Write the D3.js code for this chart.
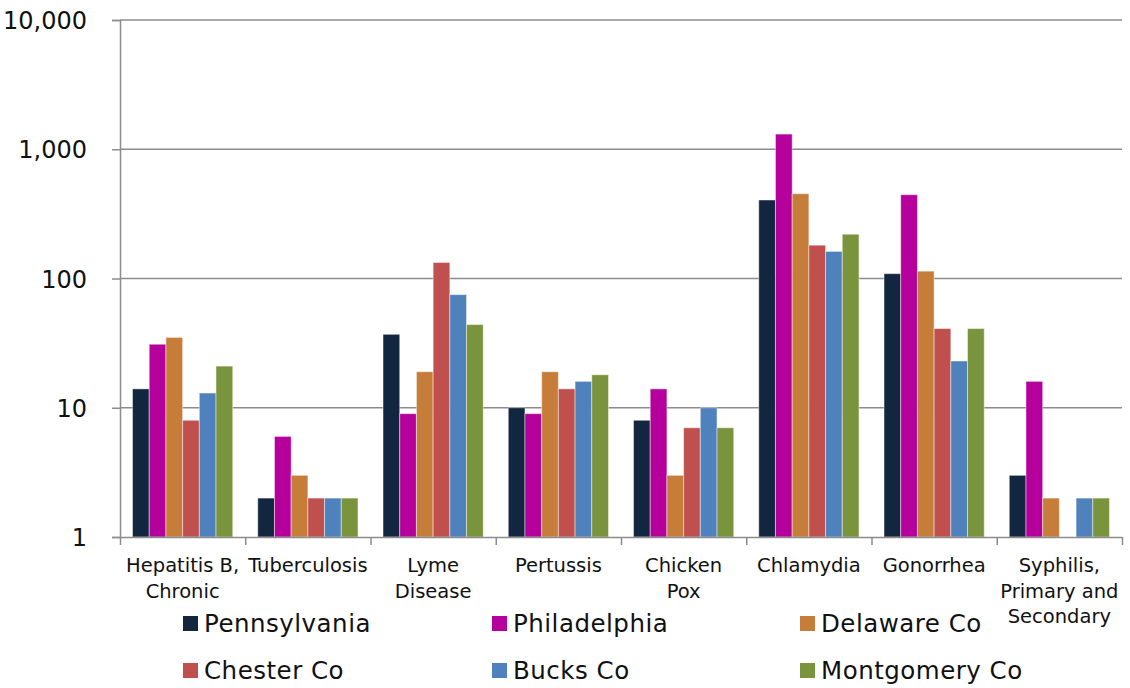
<!DOCTYPE html>
<html>
<head>
<meta charset="utf-8">
<script src="https://cdn.jsdelivr.net/npm/d3@7"></script>
<style>
  html, body { margin: 0; padding: 0; background: #fff; }
  svg { display: block; font-family: "DejaVu Sans", sans-serif; }
</style>
</head>
<body>
<svg id="chart" width="1130" height="688"></svg>
<script>
const categories = [
  ["Hepatitis B,", "Chronic"],
  ["Tuberculosis"],
  ["Lyme", "Disease"],
  ["Pertussis"],
  ["Chicken", "Pox"],
  ["Chlamydia"],
  ["Gonorrhea"],
  ["Syphilis,", "Primary and", "Secondary"]
];
const seriesNames = ["Pennsylvania", "Philadelphia", "Delaware Co", "Chester Co", "Bucks Co", "Montgomery Co"];
const seriesColors = ["#12263F", "#B5009B", "#C77D3A", "#C0504D", "#4F81BD", "#79943C"];
const pennsylvania = [14, 2, 37, 10, 8, 405, 109, 3];
const philadelphia = [31, 6, 9, 9, 14, 1310, 445, 16];
const delawareCo   = [35, 3, 19, 19, 3, 453, 114, 2];
const chesterCo    = [8, 2, 133, 14, 7, 181, 41, null];
const bucksCo      = [13, 2, 75, 16, 10, 162, 23, 2];
const montgomeryCo = [21, 2, 44, 18, 7, 220, 41, 2];
const seriesValues = [pennsylvania, philadelphia, delawareCo, chesterCo, bucksCo, montgomeryCo];
const yTicks = [1, 10, 100, 1000, 10000];

(function () {
const svg = d3.select("#chart");
const pLeft = 120, pRight = 1122, pTop = 20, pBottom = 537;

const x0 = d3.scaleBand().domain(d3.range(categories.length)).range([pLeft, pRight]).padding(0);
const x1 = d3.scaleBand().domain(d3.range(seriesNames.length)).range([0, x0.bandwidth()])
  .paddingInner(0).paddingOuter(0.75);
const y = d3.scaleLog().domain([1, 10000]).range([pBottom, pTop]);

// gridlines
svg.append("g").selectAll("line").data(yTicks.slice(1)).join("line")
  .attr("x1", pLeft).attr("x2", pRight)
  .attr("y1", d => y(d)).attr("y2", d => y(d))
  .attr("stroke", "#8c8c8c").attr("stroke-width", 1.5);

// bars
const groups = svg.append("g").selectAll("g").data(categories).join("g")
  .attr("transform", (d, i) => `translate(${x0(i)},0)`);
groups.selectAll("rect")
  .data((d, i) => seriesValues.map((s, j) => ({ j, v: s[i] })).filter(o => o.v != null))
  .join("rect")
  .attr("x", o => x1(o.j))
  .attr("width", x1.bandwidth())
  .attr("y", o => y(o.v))
  .attr("height", o => pBottom - y(o.v))
  .attr("fill", o => seriesColors[o.j])
  .attr("stroke", "rgba(255,255,255,0.45)")
  .attr("stroke-width", 1);

// y axis
const yAxis = d3.axisLeft(y).tickValues(yTicks).tickFormat(d3.format(",")).tickSize(8).tickPadding(25);
const gy = svg.append("g").attr("transform", `translate(${pLeft},0)`).call(yAxis);
gy.select(".domain").attr("stroke", "#8c8c8c").attr("stroke-width", 1.5);
gy.selectAll(".tick line").attr("stroke", "#8c8c8c").attr("stroke-width", 1.5);
gy.selectAll(".tick text").attr("font-size", 24).attr("fill", "#111")
  .attr("font-family", "DejaVu Sans, sans-serif").attr("dy", "0.36em");

// x axis
const xTickScale = d3.scaleLinear().domain([0, categories.length]).range([pLeft, pRight]);
const gx = svg.append("g").attr("transform", `translate(0,${pBottom})`)
  .call(d3.axisBottom(xTickScale).tickValues(d3.range(categories.length + 1)).tickSize(8).tickFormat(""));
gx.select(".domain").attr("stroke", "#8c8c8c").attr("stroke-width", 1.5).attr("d", `M${pLeft},0.5H${pRight}`);
gx.selectAll(".tick line").attr("stroke", "#8c8c8c").attr("stroke-width", 1.5);

// category labels
const lab = svg.append("g").selectAll("text").data(categories).join("text")
  .attr("x", (d, i) => x0(i) + x0.bandwidth() / 2)
  .attr("y", 572)
  .attr("text-anchor", "middle")
  .attr("font-size", 19.5)
  .attr("fill", "#111");
lab.selectAll("tspan").data(d => d).join("tspan")
  .attr("x", function () { return this.parentNode.getAttribute("x"); })
  .attr("dy", (d, k) => k === 0 ? 0 : 25.5)
  .text(d => d);

// legend
const legX = [183, 492, 800];
const legY = [623, 670];
const leg = svg.append("g").selectAll("g").data(seriesNames).join("g")
  .attr("transform", (d, i) => `translate(${legX[i % 3]},${legY[Math.floor(i / 3)]})`);
leg.append("rect").attr("x", 0).attr("y", -7).attr("width", 15).attr("height", 15)
  .attr("fill", (d, i) => seriesColors[i]);
leg.append("text").attr("x", 21).attr("y", 9).attr("font-size", 24.5)
  .attr("letter-spacing", 0.5).attr("fill", "#111").text(d => d);
})();
</script>
</body>
</html>
